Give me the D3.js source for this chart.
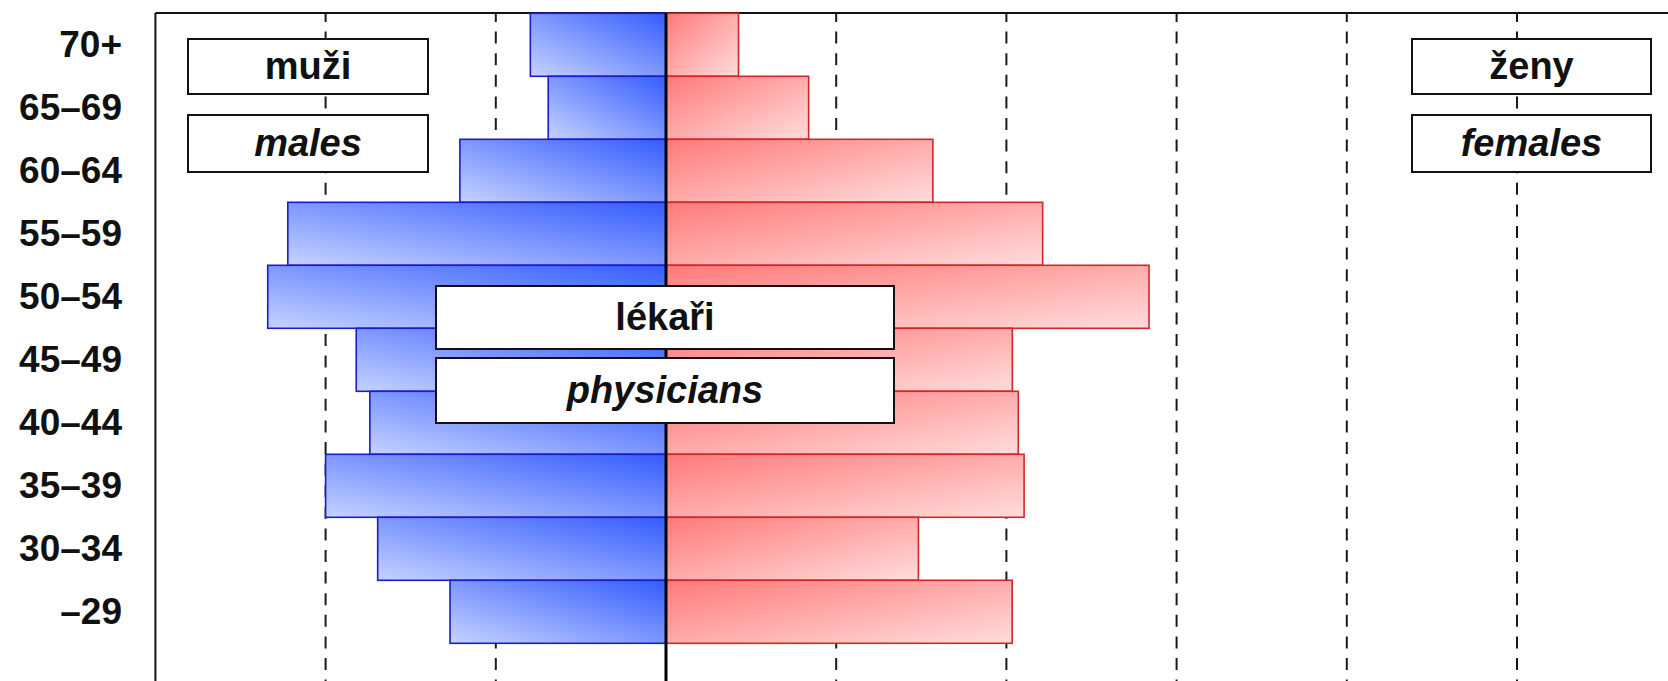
<!DOCTYPE html>
<html><head><meta charset="utf-8">
<script src="https://cdn.jsdelivr.net/npm/d3@7/dist/d3.min.js"></script>
<style>html,body{margin:0;padding:0;background:#fff;overflow:hidden}</style>
</head><body>
<svg id="chart" width="1668" height="681"></svg>
<script>
// ---- data ----
const categories = ["70+", "65–69", "60–64", "55–59", "50–54", "45–49", "40–44", "35–39", "30–34", "–29"];
const males   = [797, 692, 1211, 2222, 2340, 1820, 1740, 2000, 1694, 1269];
const females = [426, 838, 1568, 2213, 2838, 2035, 2070, 2104, 1483, 2034];
const gridTicks = [-2000, -1000, 1000, 2000, 3000, 4000, 5000];
const maleLabels = ["muži", "males"];
const femaleLabels = ["ženy", "females"];
const titleLabels = ["lékaři", "physicians"];

// ---- layout ----
const W = 1668, H = 681;
const svg = d3.select("#chart");
const x = d3.scaleLinear().domain([-3000, 6000]).range([155.4, 1687.2]);
const y = d3.scaleBand().domain(categories).range([13.3, 643.3]).padding(0);
const FONT = "'Liberation Sans', Arial, Helvetica, sans-serif";

const defs = svg.append("defs");
const gb = defs.append("linearGradient").attr("id", "gBlue")
  .attr("x1", 1).attr("y1", 0).attr("x2", 0).attr("y2", 1);
gb.append("stop").attr("offset", 0).attr("stop-color", "rgb(52,92,255)");
gb.append("stop").attr("offset", 1).attr("stop-color", "rgb(198,210,255)");
const gr = defs.append("linearGradient").attr("id", "gRed")
  .attr("x1", 0).attr("y1", 0).attr("x2", 1).attr("y2", 1);
gr.append("stop").attr("offset", 0).attr("stop-color", "rgb(255,122,122)");
gr.append("stop").attr("offset", 1).attr("stop-color", "rgb(255,220,220)");

// gridlines
svg.append("g").selectAll("line").data(gridTicks).join("line")
  .attr("x1", d => x(d)).attr("x2", d => x(d))
  .attr("y1", 13).attr("y2", H + 5)
  .attr("stroke", "#1a1a1a").attr("stroke-width", 2)
  .attr("stroke-dasharray", "12,9.6").attr("stroke-dashoffset", 3);

// frame (top & left)
svg.append("line").attr("x1", x(-3000)).attr("x2", W + 5).attr("y1", 13).attr("y2", 13)
  .attr("stroke", "#111").attr("stroke-width", 2);
svg.append("line").attr("x1", x(-3000)).attr("x2", x(-3000)).attr("y1", 13).attr("y2", H + 5)
  .attr("stroke", "#111").attr("stroke-width", 2);

// bars
svg.append("g").selectAll("rect").data(males).join("rect")
  .attr("x", d => x(-d)).attr("width", d => x(0) - x(-d))
  .attr("y", (d, i) => y(categories[i])).attr("height", y.bandwidth())
  .attr("fill", "url(#gBlue)").attr("stroke", "#1c1ccc").attr("stroke-width", 1.6);
svg.append("g").selectAll("rect").data(females).join("rect")
  .attr("x", x(0)).attr("width", d => x(d) - x(0))
  .attr("y", (d, i) => y(categories[i])).attr("height", y.bandwidth())
  .attr("fill", "url(#gRed)").attr("stroke", "#d02828").attr("stroke-width", 1.6);

// center axis
svg.append("line").attr("x1", x(0)).attr("x2", x(0)).attr("y1", 13).attr("y2", H + 5)
  .attr("stroke", "#000").attr("stroke-width", 3);

// category labels
svg.append("g").selectAll("text").data(categories).join("text")
  .attr("x", 122).attr("y", d => y(d) + y.bandwidth() / 2 + 12)
  .attr("text-anchor", "end").attr("font-family", FONT).attr("font-weight", "bold")
  .attr("font-size", 37).attr("fill", "#111").text(d => d);

// label boxes
function box(x0, x1, y0, y1, txt, italic) {
  const g = svg.append("g");
  g.append("rect").attr("x", x0).attr("y", y0).attr("width", x1 - x0).attr("height", y1 - y0)
    .attr("fill", "#fff").attr("stroke", "#111").attr("stroke-width", 2);
  g.append("text").attr("x", (x0 + x1) / 2).attr("y", (y0 + y1) / 2 + 12)
    .attr("text-anchor", "middle").attr("font-family", FONT).attr("font-weight", "bold")
    .attr("font-style", italic ? "italic" : "normal")
    .attr("font-size", 38).attr("fill", "#111").text(txt);
}
box(188, 428, 39, 94, maleLabels[0], false);
box(188, 428, 115, 172, maleLabels[1], true);
box(1412, 1651, 39, 94, femaleLabels[0], false);
box(1412, 1651, 115, 172, femaleLabels[1], true);
box(436, 894, 286, 349, titleLabels[0], false);
box(436, 894, 358, 423, titleLabels[1], true);
</script>
</body></html>
